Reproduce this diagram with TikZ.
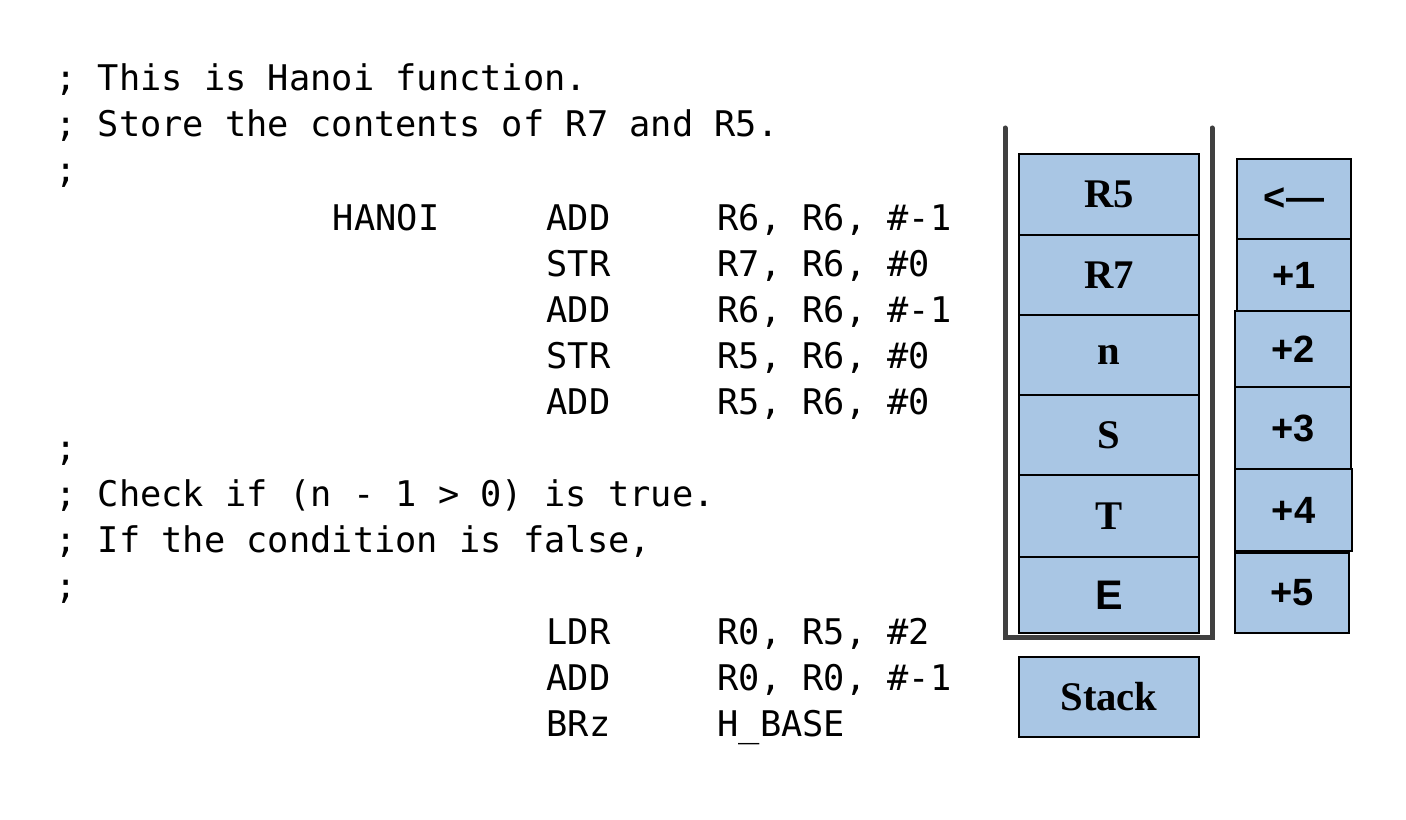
\documentclass[tikz,border=0pt]{standalone}
\usepackage{fontspec}
\usepackage{tikz}
\newfontfamily\codefont{DejaVu Sans Mono}
\newfontfamily\boxserif{Liberation Serif}
\newfontfamily\boxsans{Liberation Sans}
\definecolor{stackblue}{HTML}{A9C6E4}
\definecolor{wallgray}{HTML}{404040}

\begin{document}
\begin{tikzpicture}[x=0.75pt, y=-0.75pt,
	code/.style={anchor=base west, inner sep=0, font=\codefont\fontsize{26.5}{32}\selectfont},
	cell/.style={draw, line width=1.5pt, fill=stackblue, inner sep=0, minimum width=135pt, minimum height=60pt, font=\boxserif\bfseries\fontsize{30.5}{36}\selectfont},
	slot/.style={cell, minimum width=85.5pt, font=\boxsans\bfseries\fontsize{28.5}{32}\selectfont}]

	\useasboundingbox (0,0) rectangle (1406,820);

	% code listing
	\node[code] (c1) at (55,91) {; This is Hanoi function.};
	\node[code] (c2) at (55,137) {; Store the contents of R7 and R5.};
	\node[code] (c3) at (55,183) {;};
	\node[code] (lbl4) at (332.7,230) {HANOI};
	\node[code] (op4) at (546.3,230) {ADD};
	\node[code] (arg4) at (717.2,230) {R6, R6, \#-1};
	\node[code] (op5) at (546.3,276) {STR};
	\node[code] (arg5) at (717.2,276) {R7, R6, \#0};
	\node[code] (op6) at (546.3,322) {ADD};
	\node[code] (arg6) at (717.2,322) {R6, R6, \#-1};
	\node[code] (op7) at (546.3,368) {STR};
	\node[code] (arg7) at (717.2,368) {R5, R6, \#0};
	\node[code] (op8) at (546.3,414) {ADD};
	\node[code] (arg8) at (717.2,414) {R5, R6, \#0};
	\node[code] (c9) at (55,460) {;};
	\node[code] (c10) at (55,506) {; Check if (n - 1 > 0) is true.};
	\node[code] (c11) at (55,552) {; If the condition is false,};
	\node[code] (c12) at (55,598) {;};
	\node[code] (op13) at (546.3,644) {LDR};
	\node[code] (arg13) at (717.2,644) {R0, R5, \#2};
	\node[code] (op14) at (546.3,690) {ADD};
	\node[code] (arg14) at (717.2,690) {R0, R0, \#-1};
	\node[code] (op15) at (546.3,736) {BRz};
	\node[code] (arg15) at (717.2,736) {H\_BASE};

	% stack walls
	\coordinate (wallTL) at (1005,128);
	\coordinate (wallBL) at (1005,637);
	\coordinate (wallBR) at (1212,637);
	\coordinate (wallTR) at (1212,128);
	\draw[gray!22, line width=3.75pt, line cap=round, shift={(4,4)}] (wallTL) -- (wallBL) -- (wallBR) -- (wallTR);
	\draw[wallgray, line width=3.75pt, line cap=round] (wallTL) -- (wallBL) -- (wallBR) -- (wallTR);

	% stack cells
	\node[cell, minimum height=60.75pt] (R5) at (1109,194.5) {R5};
	\node[cell] (R7) at (1109,275) {R7};
	\node[cell] (n) at (1109,355) {n};
	\node[cell] (S) at (1109,435) {S};
	\node[cell, minimum height=61.5pt] (T) at (1109,516) {T};
	\node[cell, minimum height=57pt, font=\boxsans\bfseries\fontsize{31}{36}\selectfont] (E) at (1109,595) {E};
	\node[cell] (stack) at (1109,697) {Stack};

	% offsets
	\node[slot] (top) at (1294,199) {<—};
	\node[slot, minimum height=54pt] (off1) at (1294,275) {+1};
	\node[slot, minimum width=87pt, minimum height=57pt] (off2) at (1293,349) {+2};
	\node[slot, minimum width=87pt, minimum height=61.5pt] (off3) at (1293,428) {+3};
	\node[slot, minimum width=87.75pt, minimum height=61.5pt] (off4) at (1293.5,510) {+4};
	\node[slot] (off5) at (1292,593) {+5};
\end{tikzpicture}
\end{document}
